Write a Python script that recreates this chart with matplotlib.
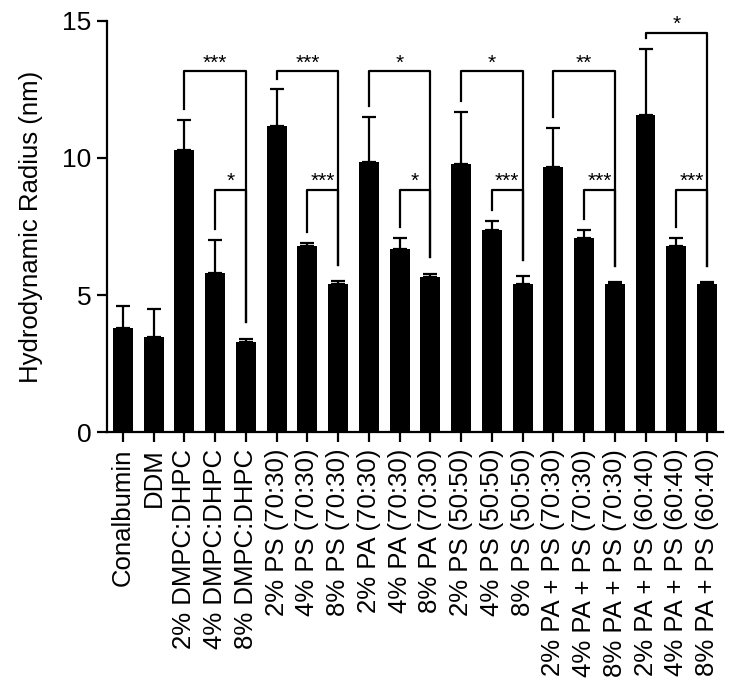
import matplotlib.pyplot as plt
import numpy as np

plt.rcParams['font.family'] = ['Liberation Sans', 'DejaVu Sans']

# ─── DATA ────────────────────────────────────────────────────────────────────
etiquetas = [
    "Conalbumin", "DDM",
    "2% DMPC:DHPC", "4% DMPC:DHPC", "8% DMPC:DHPC",
    "2% PS (70:30)", "4% PS (70:30)", "8% PS (70:30)",
    "2% PA (70:30)", "4% PA (70:30)", "8% PA (70:30)",
    "2% PS (50:50)", "4% PS (50:50)", "8% PS (50:50)",
    "2% PA + PS (70:30)", "4% PA + PS (70:30)", "8% PA + PS (70:30)",
    "2% PA + PS (60:40)", "4% PA + PS (60:40)", "8% PA + PS (60:40)",
]
radio = [3.8, 3.47, 10.3, 5.8, 3.28,
         11.17, 6.8, 5.4,
         9.86, 6.68, 5.66,
         9.78, 7.37, 5.4,
         9.67, 7.07, 5.4,
         11.57, 6.78, 5.4]
error = [0.8, 1.03, 1.1, 1.2, 0.12,
         1.33, 0.1, 0.1,
         1.64, 0.4, 0.11,
         1.89, 0.33, 0.29,
         1.42, 0.3, 0.07,
         2.41, 0.3, 0.07]

# comparaciones: (barra izquierda, barra derecha, altura del corchete, texto)
comparaciones = [
    (2, 4, 13.17, "***"), (3, 4, 8.83, "*"),
    (5, 7, 13.17, "***"), (6, 7, 8.83, "***"),
    (8, 10, 13.17, "*"), (9, 10, 8.83, "*"),
    (11, 13, 13.17, "*"), (12, 13, 8.83, "***"),
    (14, 16, 13.17, "**"), (15, 16, 8.83, "***"),
    (17, 19, 14.56, "*"), (18, 19, 8.83, "***"),
]

# ─── FIGURE ──────────────────────────────────────────────────────────────────
fig = plt.figure(figsize=(7.31, 6.95), dpi=100)
ax = fig.add_axes([0.1464, 0.3784, 0.989 - 0.1464, 0.9698 - 0.3784])

x = np.arange(len(radio))
ax.bar(x, radio, width=0.65, color="black", zorder=3)
ax.errorbar(x, radio, yerr=[np.zeros(len(error)), error], fmt="none",
            ecolor="black", elinewidth=1.6, capsize=5, capthick=1.6, zorder=2)

# corchetes de significancia
tope = np.array(radio) + np.array(error)
for i, j, h, txt in comparaciones:
    y_izq = tope[i] + 0.4
    y_der = tope[j] + 0.6
    ax.plot([x[i], x[i], x[j], x[j]], [y_izq, h, h, y_der],
            color="black", lw=1.6, clip_on=False, zorder=4)
    ax.text((x[i] + x[j]) / 2, h + 0.1, txt, ha="center", va="baseline",
            fontsize=15, clip_on=False)

ax.set_xlim(-0.52, 19.52)
ax.set_ylim(0, 15)
ax.set_yticks([0, 5, 10, 15])
ax.set_xticks(x)
ax.set_xticklabels(etiquetas, rotation=90, fontsize=18.5)
ax.tick_params(axis="y", labelsize=19, width=1.6, length=7, pad=4)
ax.tick_params(axis="x", width=1.6, length=7, pad=5)
ax.set_ylabel("Hydrodynamic Radius (nm)", fontsize=18.5, labelpad=14)

for s in ["top", "right"]:
    ax.spines[s].set_visible(False)
for s in ["left", "bottom"]:
    ax.spines[s].set_linewidth(1.6)

fig.savefig("out.png", dpi=100)
